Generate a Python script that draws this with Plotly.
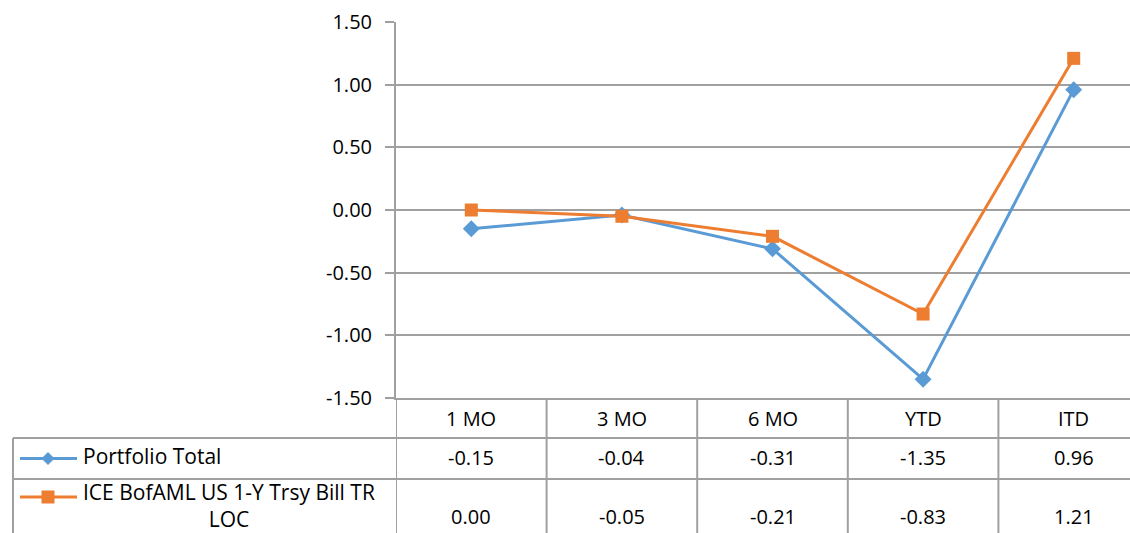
import plotly.graph_objects as go

# ---- data ----
periods = ["1 MO", "3 MO", "6 MO", "YTD", "ITD"]
portfolio_total = [-0.15, -0.04, -0.31, -1.35, 0.96]
benchmark = [0.00, -0.05, -0.21, -0.83, 1.21]
series_names = ["Portfolio Total", "ICE BofAML US 1-Y Trsy Bill TR<br>LOC"]
y_ticks = [1.5, 1.0, 0.5, 0.0, -0.5, -1.0, -1.5]

# ---- layout geometry (pixels) ----
W, H = 1130, 533
L, R, T, B = 396, 1130, 22, 398
CAT_W = 150.6
BLUE, ORANGE = "#5B9BD5", "#ED7D31"
GRID = "#A0A0A0"
FONT = "Open Sans"
FS = 20


def px(x):
    return (x - L) / (R - L)


def py(y):
    return (B - y) / (B - T)


xs = list(range(len(periods)))

fig = go.Figure()
fig.add_trace(go.Scatter(
    x=xs, y=portfolio_total, mode="lines+markers", name="Portfolio Total",
    line=dict(color=BLUE, width=3),
    marker=dict(symbol="diamond", size=13, color=BLUE),
    cliponaxis=False,
))
fig.add_trace(go.Scatter(
    x=xs, y=benchmark, mode="lines+markers", name="ICE BofAML US 1-Y Trsy Bill TR LOC",
    line=dict(color=ORANGE, width=3),
    marker=dict(symbol="square", size=13, color=ORANGE),
    cliponaxis=False,
))

shapes = []
annotations = []
txt = dict(size=FS, color="#000", family=FONT)

# table grid: vertical separators between categories (and the y-axis extension)
for b in [-0.5, 0.5, 1.5, 2.5, 3.5]:
    shapes.append(dict(type="line", xref="x", yref="paper", x0=b, x1=b,
                       y0=py(398), y1=py(545), line=dict(color=GRID, width=2)))
# left border of the series-name column
shapes.append(dict(type="line", xref="paper", yref="paper", x0=px(13), x1=px(13),
                   y0=py(438), y1=py(545), line=dict(color=GRID, width=2)))
# horizontal row borders
for yy in [438, 479]:
    shapes.append(dict(type="line", xref="paper", yref="paper", x0=px(13), x1=1,
                       y0=py(yy), y1=py(yy), line=dict(color=GRID, width=2)))

# header row: period labels
for i, p in enumerate(periods):
    annotations.append(dict(x=i, y=py(418.5), xref="x", yref="paper", text=p,
                            xanchor="center", yanchor="middle",
                            showarrow=False, font=txt))

# value rows
row_y = [457, 516]
for vals, yy in zip([portfolio_total, benchmark], row_y):
    for i, v in enumerate(vals):
        annotations.append(dict(x=i, y=py(yy), xref="x", yref="paper", text=f"{v:.2f}",
                                xanchor="center", yanchor="middle",
                                showarrow=False, font=txt))

# legend keys inside the table
key_y = [458.5, 497]
for color, yy, kind in zip([BLUE, ORANGE], key_y, ["diamond", "square"]):
    shapes.append(dict(type="line", xref="paper", yref="paper", x0=px(20), x1=px(77),
                       y0=py(yy), y1=py(yy), line=dict(color=color, width=3)))
    cx = 48
    h = 6.5
    if kind == "diamond":
        path = (f"M {px(cx - h)} {py(yy)} L {px(cx)} {py(yy - h)} "
                f"L {px(cx + h)} {py(yy)} L {px(cx)} {py(yy + h)} Z")
        shapes.append(dict(type="path", xref="paper", yref="paper", path=path,
                           fillcolor=color, line=dict(color=color, width=0)))
    else:
        shapes.append(dict(type="rect", xref="paper", yref="paper",
                           x0=px(cx - h), x1=px(cx + h), y0=py(yy + h), y1=py(yy - h),
                           fillcolor=color, line=dict(color=color, width=0)))

# series names
annotations.append(dict(x=px(81), y=py(455.5), xref="paper", yref="paper", text=series_names[0],
                        xanchor="left", yanchor="middle", showarrow=False,
                        font=dict(size=21, color="#000", family=FONT)))
annotations.append(dict(x=px(81), y=py(505), xref="paper", yref="paper", text=series_names[1],
                        xanchor="left", yanchor="middle", align="center", showarrow=False,
                        font=dict(size=21, color="#000", family=FONT)))

fig.update_layout(
    width=W, height=H,
    margin=dict(l=L, r=W - R, t=T, b=H - B),
    paper_bgcolor="white", plot_bgcolor="white",
    showlegend=False,
    shapes=shapes, annotations=annotations,
    xaxis=dict(range=[-0.5, -0.5 + (R - L) / CAT_W], showgrid=False, zeroline=False,
               showticklabels=False, ticks="", showline=True, linecolor=GRID, linewidth=2,
               fixedrange=True),
    yaxis=dict(range=[-1.5, 1.5], tickvals=y_ticks,
               ticktext=[f"{v:.2f}" for v in y_ticks],
               showgrid=True, gridcolor=GRID, gridwidth=2, zeroline=False,
               showline=True, linecolor=GRID, linewidth=2,
               ticks="outside", ticklen=9, tickwidth=2, tickcolor=GRID,
               ticklabelstandoff=9,
               tickfont=txt, fixedrange=True),
)

fig.write_html("out.html")
